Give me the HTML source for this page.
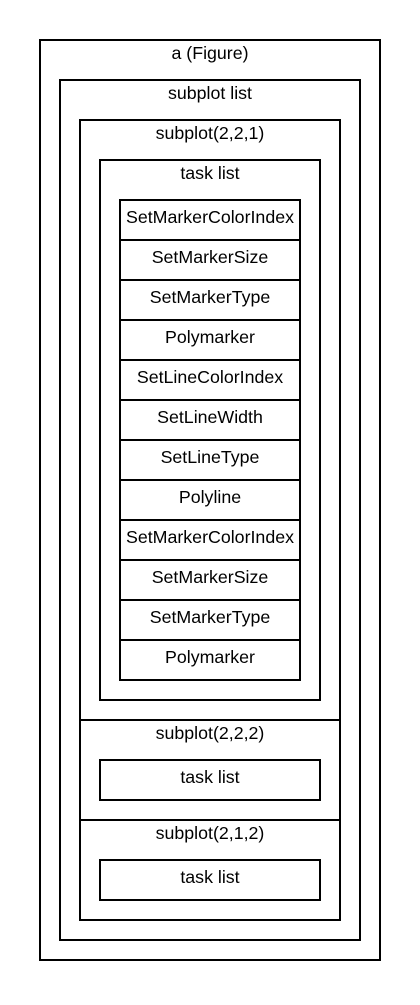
<!DOCTYPE html>
<html><head><meta charset="utf-8"><style>html,body{margin:0;padding:0;background:#fff}</style></head>
<body>
<svg width="420" height="1000" viewBox="0 0 420 1000" xmlns="http://www.w3.org/2000/svg" font-family="Liberation Sans, sans-serif" font-size="17.8" text-anchor="middle" fill="none" stroke="#000" stroke-width="2">
<rect x="40" y="40" width="340" height="920"/>
<rect x="60" y="80" width="300" height="860"/>
<rect x="80" y="120" width="260" height="800"/>
<line x1="80" y1="720" x2="340" y2="720"/>
<line x1="80" y1="820" x2="340" y2="820"/>
<rect x="100" y="160" width="220" height="540"/>
<rect x="120" y="200" width="180" height="480"/>
<g>
<line x1="120" y1="240" x2="300" y2="240"/><line x1="120" y1="280" x2="300" y2="280"/>
<line x1="120" y1="320" x2="300" y2="320"/><line x1="120" y1="360" x2="300" y2="360"/>
<line x1="120" y1="400" x2="300" y2="400"/><line x1="120" y1="440" x2="300" y2="440"/>
<line x1="120" y1="480" x2="300" y2="480"/><line x1="120" y1="520" x2="300" y2="520"/>
<line x1="120" y1="560" x2="300" y2="560"/><line x1="120" y1="600" x2="300" y2="600"/>
<line x1="120" y1="640" x2="300" y2="640"/>
</g>
<rect x="100" y="760" width="220" height="40"/>
<rect x="100" y="860" width="220" height="40"/>
<g fill="#000" stroke="none">
<text x="210" y="59">a (Figure)</text>
<text x="210" y="99">subplot list</text>
<text x="210" y="139">subplot(2,2,1)</text>
<text x="210" y="179">task list</text>
<text x="210" y="223">SetMarkerColorIndex</text>
<text x="210" y="263">SetMarkerSize</text>
<text x="210" y="303">SetMarkerType</text>
<text x="210" y="343">Polymarker</text>
<text x="210" y="383">SetLineColorIndex</text>
<text x="210" y="423">SetLineWidth</text>
<text x="210" y="463">SetLineType</text>
<text x="210" y="503">Polyline</text>
<text x="210" y="543">SetMarkerColorIndex</text>
<text x="210" y="583">SetMarkerSize</text>
<text x="210" y="623">SetMarkerType</text>
<text x="210" y="663">Polymarker</text>
<text x="210" y="739">subplot(2,2,2)</text>
<text x="210" y="783">task list</text>
<text x="210" y="839">subplot(2,1,2)</text>
<text x="210" y="883">task list</text>
</g>
</svg>
</body></html>
